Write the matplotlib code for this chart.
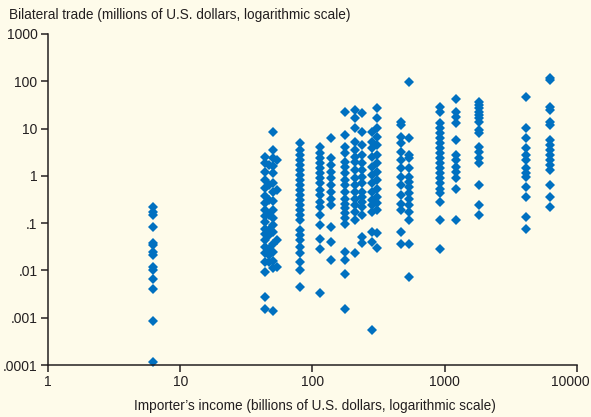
import matplotlib
matplotlib.use("Agg")
import matplotlib.pyplot as plt
from matplotlib.transforms import ScaledTranslation

# importer's income (billions of U.S. dollars) for each column of points
incomes = [6.2, 44, 47, 50, 54, 80, 114, 138, 176, 210, 237, 282, 307,
           467, 537, 920, 1217, 1815, 4115, 6250]

# bilateral trade (millions of U.S. dollars), one list per income column
trade_6 = [0.22, 0.17, 0.148, 0.084, 0.038, 0.034, 0.025, 0.021, 0.0119,
           0.0101, 0.0065, 0.004, 0.00086, 0.000116]
trade_44 = [2.5, 1.86, 1.2, 0.81, 0.55, 0.37, 0.265, 0.19, 0.14, 0.105, 0.077,
            0.058, 0.043, 0.032, 0.023, 0.015, 0.0092, 0.0027, 0.0015]
trade_47 = [1.7, 0.64, 0.31, 0.15, 0.07, 0.055, 0.029, 0.021, 0.015]
trade_50 = [8.4, 3.5, 2.4, 1.6, 1.14, 0.7, 0.45, 0.29, 0.19, 0.128, 0.09,
            0.064, 0.037, 0.024, 0.016, 0.011, 0.0014]
trade_54 = [2.15, 0.5, 0.043, 0.0117]
trade_80 = [4.85, 3.5, 2.75, 2.15, 1.69, 1.32, 1.04, 0.81, 0.64, 0.5, 0.39,
            0.31, 0.24, 0.19, 0.148, 0.116, 0.07, 0.055, 0.043, 0.031, 0.023,
            0.015, 0.01, 0.0045]
trade_114 = [4.1, 3.0, 2.34, 1.83, 1.44, 1.13, 0.88, 0.69, 0.5, 0.39, 0.28,
             0.22, 0.148, 0.091, 0.047, 0.029, 0.0034]
trade_138 = [6.2, 2.34, 1.69, 1.22, 0.88, 0.64, 0.46, 0.33, 0.24, 0.083, 0.04,
             0.017]
trade_176 = [22.7, 7.3, 4.1, 3.0, 2.0, 1.55, 1.13, 0.81, 0.64, 0.46, 0.33,
             0.26, 0.21, 0.163, 0.128, 0.095, 0.025, 0.0165, 0.0083, 0.0015]
trade_210 = [24.6, 16.4, 10.1, 5.3, 3.5, 2.5, 2.0, 1.32, 0.88, 0.64, 0.46,
             0.33, 0.24, 0.17, 0.116, 0.023]
trade_237 = [21, 8.6, 4.5, 2.75, 1.83, 1.32, 0.95, 0.69, 0.46, 0.36, 0.28,
             0.22, 0.148, 0.051, 0.038]
trade_282 = [8.6, 5.3, 3.8, 2.5, 1.55, 1.04, 0.69, 0.46, 0.31, 0.24, 0.17,
             0.065, 0.04, 0.00056]
trade_307 = [26.8, 16.4, 10.1, 6.7, 4.5, 2.75, 1.83, 1.22, 0.81, 0.54, 0.36,
             0.265, 0.19, 0.061, 0.03]
trade_467 = [13.9, 11.9, 6.7, 4.9, 3.2, 2.15, 1.44, 0.95, 0.64, 0.39, 0.26,
             0.19, 0.065, 0.037]
trade_537 = [96, 6.2, 2.75, 2.34, 1.44, 0.95, 0.75, 0.59, 0.43, 0.33, 0.24,
             0.17, 0.116, 0.037, 0.0071]
trade_920 = [28.9, 22.7, 12.9, 10.1, 7.9, 6.2, 4.9, 3.8, 3.0, 2.34, 1.83,
             1.44, 1.13, 0.88, 0.69, 0.54, 0.43, 0.28, 0.116, 0.029]
trade_1217 = [41.5, 22.7, 17.8, 12.9, 5.7, 2.75, 2.15, 1.55, 1.22, 0.88,
              0.54, 0.116]
trade_1815 = [36.9, 31.4, 26.8, 22.7, 19.3, 16.4, 13.9, 9.3, 7.9, 4.1, 3.2,
              2.34, 1.83, 0.64, 0.24, 0.148]
trade_4115 = [47, 10.1, 6.2, 3.8, 2.75, 2.15, 1.44, 1.13, 0.95, 0.59, 0.36,
              0.137, 0.074]
trade_6250 = [115, 106, 28.9, 24.6, 13.9, 11.9, 5.7, 4.5, 3.5, 2.75, 2.15,
              1.69, 1.32, 0.64, 0.36, 0.22]

trade_cols = [trade_6, trade_44, trade_47, trade_50, trade_54, trade_80,
              trade_114, trade_138, trade_176, trade_210, trade_237,
              trade_282, trade_307, trade_467, trade_537, trade_920,
              trade_1217, trade_1815, trade_4115, trade_6250]

x_ticks = [1, 10, 100, 1000, 10000]
x_labels = ["1", "10", "100", "1000", "10000"]
y_ticks = [0.0001, 0.001, 0.01, 0.1, 1, 10, 100, 1000]
y_labels = [".0001", ".001", ".01", ".1", "1", "10", "100", "1000"]

x_vals, y_vals = [], []
for inc, col in zip(incomes, trade_cols):
    x_vals += [inc] * len(col)
    y_vals += col

plt.rcParams['font.family'] = ['Liberation Sans', 'DejaVu Sans']

bg = "#FEFBEA"
ink = "#231F20"
blue = "#0070C0"

fig = plt.figure(figsize=(5.91, 4.17), dpi=100, facecolor=bg)
ax = fig.add_axes([0.0812, 0.1247, 0.8951, 0.7938], facecolor=bg)

ax.plot(x_vals, y_vals, linestyle="none", marker="D", markersize=4.7,
        color=blue, markeredgewidth=0, clip_on=False)

ax.set_xscale("log")
ax.set_yscale("log")
ax.set_xlim(1, 10000)
ax.set_ylim(0.0001, 1000)
ax.set_xticks(x_ticks)
ax.set_xticklabels(x_labels)
ax.set_yticks(y_ticks)
ax.set_yticklabels(y_labels)
ax.minorticks_off()

for side in ["top", "right"]:
    ax.spines[side].set_visible(False)
for side in ["left", "bottom"]:
    ax.spines[side].set_color(ink)
    ax.spines[side].set_linewidth(1.1)
ax.tick_params(axis="both", direction="out", length=5, width=1.1,
               color=ink, labelcolor=ink, labelsize=10, pad=2.5)

# last x label sits a bit to the left so it stays inside the figure
last = ax.get_xticklabels()[-1]
last.set_transform(last.get_transform() + ScaledTranslation(-0.07, 0, fig.dpi_scale_trans))

fig.text(0.015, 0.964, "Bilateral trade (millions of U.S. dollars, logarithmic scale)",
         fontsize=9.8, color=ink, ha="left", va="center")
fig.text(0.533, 0.026, "Importer\u2019s income (billions of U.S. dollars, logarithmic scale)",
         fontsize=9.8, color=ink, ha="center", va="center")

fig.savefig("out.png", dpi=100, facecolor=bg)
